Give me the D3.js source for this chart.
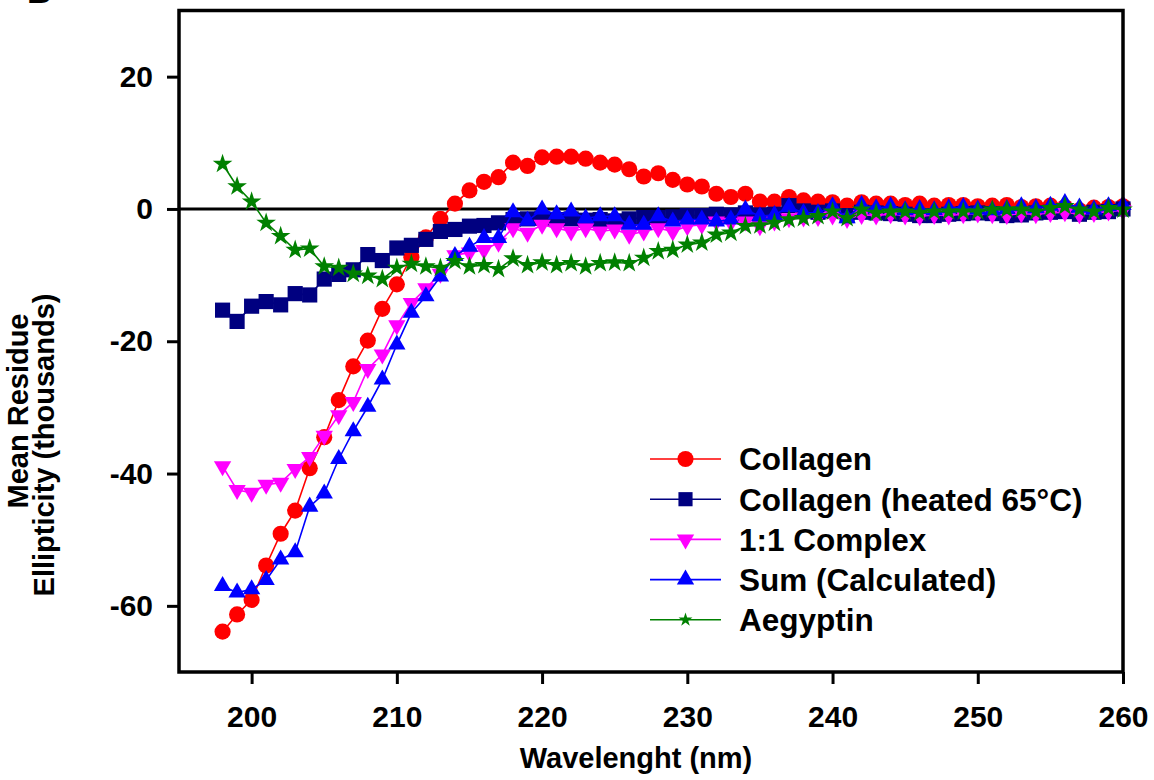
<!DOCTYPE html>
<html>
<head>
<meta charset="utf-8">
<script src="https://cdn.jsdelivr.net/npm/d3@7"></script>
<style>
  body { margin: 0; background: #fff; }
  text { font-family: "Liberation Sans", Arial, sans-serif; font-weight: bold; }
</style>
</head>
<body>
<svg id="canvas" width="1154" height="780"></svg>
<script>
// wavelengths (nm)
let wavelengths = [198, 199, 200, 201, 202, 203, 204, 205, 206, 207, 208, 209, 210,
  211, 212, 213, 214, 215, 216, 217, 218, 219, 220, 221, 222, 223, 224, 225, 226,
  227, 228, 229, 230, 231, 232, 233, 234, 235, 236, 237, 238, 239, 240, 241, 242,
  243, 244, 245, 246, 247, 248, 249, 250, 251, 252, 253, 254, 255, 256, 257, 258,
  259, 260]

// mean residue ellipticity (thousands)
let collagen = [-63.9, -61.3, -59.1, -53.9, -49.1, -45.6, -39.2, -34.5, -28.9, -23.8,
  -19.9, -15.1, -11.4, -7.3, -4.3, -1.5, 0.8, 2.8, 4.1, 4.8, 7.0, 6.5, 7.8, 7.9, 7.9,
  7.6, 7.0, 6.7, 6.0, 4.9, 5.4, 4.4, 3.7, 3.4, 2.3, 1.8, 2.3, 1.1, 1.1, 1.8, 1.3, 1.1,
  1.0, 0.5, 1.0, 0.8, 0.8, 0.6, 0.8, 0.5, 0.6, 0.6, 0.4, 0.5, 0.6, 0.3, 0.4, 0.5, 0.3,
  -0.2, 0.2, 0.3, 0.4]

let heated = [-15.3, -17.0, -14.7, -14.0, -14.5, -12.8, -13.0, -10.6, -9.9, -9.2, -6.9,
  -7.8, -5.9, -5.5, -4.6, -3.4, -3.1, -2.6, -2.5, -2.1, -1.6, -1.5, -1.4, -1.6, -1.5,
  -1.7, -1.6, -1.8, -1.5, -1.3, -1.3, -1.2, -1.0, -1.0, -0.8, -0.9, -0.6, -0.9, -0.8,
  0.5, -0.3, -0.5, -0.3, -1.0, -0.5, -0.6, -0.7, -0.8, -1.0, -1.0, -0.8, -0.7, -0.6,
  -0.7, -1.0, -0.9, -0.6, -0.5, -0.4, -0.8, -0.5, -0.4, 0.0]

let complex = [-38.9, -42.5, -42.9, -41.7, -41.4, -39.3, -37.5, -34.3, -31.2, -29.2,
  -24.2, -22.0, -17.6, -14.2, -12.0, -9.8, -7.0, -6.6, -6.2, -5.1, -2.9, -3.6, -2.4,
  -2.9, -3.4, -2.9, -3.4, -3.1, -3.9, -3.4, -2.9, -3.4, -2.6, -2.4, -1.9, -2.1, -1.9,
  -2.6, -1.9, -1.4, -1.3, -1.2, -1.0, -1.5, -0.9, -1.0, -0.8, -1.0, -1.1, -0.9, -1.0,
  -0.8, -0.7, -0.8, -0.9, -0.7, -0.8, -0.6, -0.5, -0.8, -0.6, -0.4, -0.2]

let sumCalc = [-57.0, -58.0, -57.5, -56.1, -53.0, -51.9, -45.0, -43.0, -37.8, -33.6,
  -29.9, -25.8, -20.5, -15.7, -13.2, -10.2, -7.1, -5.7, -4.4, -4.4, -0.5, -1.8, -0.1,
  -0.8, -0.4, -1.4, -1.1, -1.1, -2.4, -2.4, -1.1, -1.9, -1.6, -1.6, -1.9, -1.6, -0.1,
  -1.1, -0.9, 0.3, -0.6, -0.6, 0.4, -1.4, 0.6, 0.1, 0.4, -0.2, 0.0, -0.2, 0.1, 0.3,
  -0.1, -0.2, 0.0, 0.4, 0.1, 0.5, 0.9, 0.2, -0.1, 0.4, 0.6]

let aegyptin = [6.8, 3.4, 1.1, -2.1, -4.1, -6.2, -6.0, -8.7, -8.9, -9.8, -10.1, -10.6,
  -8.9, -8.3, -8.7, -8.9, -7.9, -8.7, -8.5, -9.1, -7.5, -8.5, -8.1, -8.5, -8.2, -8.7,
  -8.2, -8.1, -8.2, -7.4, -6.4, -6.2, -5.4, -5.1, -3.9, -3.6, -2.6, -2.5, -2.1, -1.6,
  -1.4, -1.1, -0.4, -1.4, -0.1, -0.6, -0.4, -0.4, -0.6, -0.4, -0.4, -0.4, -0.4, -0.1,
  -0.1, -0.1, -0.4, 0.1, 0.4, -0.1, -0.4, 0.1, -0.1]

let seriesNames = ['Collagen', 'Collagen (heated 65°C)', '1:1 Complex', 'Sum (Calculated)', 'Aegyptin']
let seriesValues = [collagen, heated, complex, sumCalc, aegyptin]
let seriesColors = ['#ff0000', '#000080', '#ff00ff', '#0000ff', '#008000']
let seriesShapes = ['circle', 'square', 'down', 'up', 'star']

let xTicks = [200, 210, 220, 230, 240, 250, 260]
let yTicks = [-60, -40, -20, 0, 20]

let canvas = d3.select('#canvas')

let x = d3.scaleLinear().domain([195, 260]).range([179, 1123])
let y = d3.scaleLinear().domain([-70, 30]).range([672, 10.5])

// marker path for each shape (legend uses a smaller star)
let markerPath = (shape, legend) => {
    if (shape == 'circle') return d3.symbol(d3.symbolCircle, 205)()
    if (shape == 'square') return d3.symbol(d3.symbolSquare, legend ? 200 : 230)()
    if (shape == 'up' || shape == 'down') return d3.symbol(d3.symbolTriangle, 130)()
    return d3.symbol(d3.symbolStar, legend ? 60 : 120)()
}
let markerTransform = (shape, px, py) =>
    'translate(' + px + ',' + py + ')' + (shape == 'down' ? ' rotate(180)' : '')

// "B" panel letter, mostly cut off at the top (as in the original figure)
canvas.append('text').attr('x', 27).attr('y', 3).style('font-size', '34px').text('B')

// axes (plain hyphen for negative labels)
let yAxis = canvas.append('g')
    .attr('transform', 'translate(179,0)')
    .call(d3.axisLeft(y).tickValues(yTicks).tickFormat(d => String(d)).tickSize(12).tickPadding(14))
let xAxis = canvas.append('g')
    .attr('transform', 'translate(0,672)')
    .call(d3.axisBottom(x).tickValues(xTicks).tickFormat(d => String(d)).tickSize(12).tickPadding(22))

canvas.selectAll('.domain').remove()
canvas.selectAll('.tick line').attr('stroke', '#000').attr('stroke-width', 3)
canvas.selectAll('.tick text').style('font-size', '30px').attr('fill', '#000')
    .style('font-family', '"Liberation Sans", Arial, sans-serif')

// zero line
canvas.append('line')
    .attr('x1', x(195)).attr('x2', x(260))
    .attr('y1', y(0)).attr('y2', y(0))
    .attr('stroke', '#000').attr('stroke-width', 3)

// series: line then markers, drawn in legend order
let line = d3.line().x((d, i) => x(wavelengths[i])).y(d => y(d))

seriesValues.forEach((vals, s) => {
    canvas.append('path')
        .attr('d', line(vals))
        .attr('fill', 'none')
        .attr('stroke', seriesColors[s])
        .attr('stroke-width', 1.6)

    canvas.append('g').selectAll('path')
        .data(vals)
        .enter()
        .append('path')
        .attr('d', markerPath(seriesShapes[s], false))
        .attr('transform', (d, i) => markerTransform(seriesShapes[s], x(wavelengths[i]), y(d)))
        .attr('fill', seriesColors[s])
})

// plot frame
canvas.append('rect')
    .attr('x', 179).attr('y', 10.5)
    .attr('width', 1123 - 179).attr('height', 672 - 10.5)
    .attr('fill', 'none').attr('stroke', '#000').attr('stroke-width', 3.5)

// axis titles
canvas.append('text')
    .attr('x', 636).attr('y', 768)
    .attr('text-anchor', 'middle')
    .style('font-size', '29px')
    .text('Wavelenght (nm)')

canvas.append('text')
    .attr('transform', 'translate(28,411) rotate(-90)')
    .attr('text-anchor', 'middle')
    .style('font-size', '29px')
    .text('Mean Residue')

canvas.append('text')
    .attr('transform', 'translate(54,445) rotate(-90)')
    .attr('text-anchor', 'middle')
    .style('font-size', '29px')
    .text('Ellipticity (thousands)')

// legend
let legend = canvas.append('g').attr('transform', 'translate(650,459)')
seriesNames.forEach((name, s) => {
    let row = legend.append('g').attr('transform', 'translate(0,' + (s * 40.2) + ')')
    row.append('line')
        .attr('x1', 0).attr('x2', 71)
        .attr('stroke', seriesColors[s]).attr('stroke-width', 1.6)
    row.append('path')
        .attr('d', markerPath(seriesShapes[s], true))
        .attr('transform', markerTransform(seriesShapes[s], 35.5, 0))
        .attr('fill', seriesColors[s])
    row.append('text')
        .attr('x', 89).attr('dy', '0.36em')
        .style('font-size', '31.5px')
        .text(name)
})
</script>
</body>
</html>
